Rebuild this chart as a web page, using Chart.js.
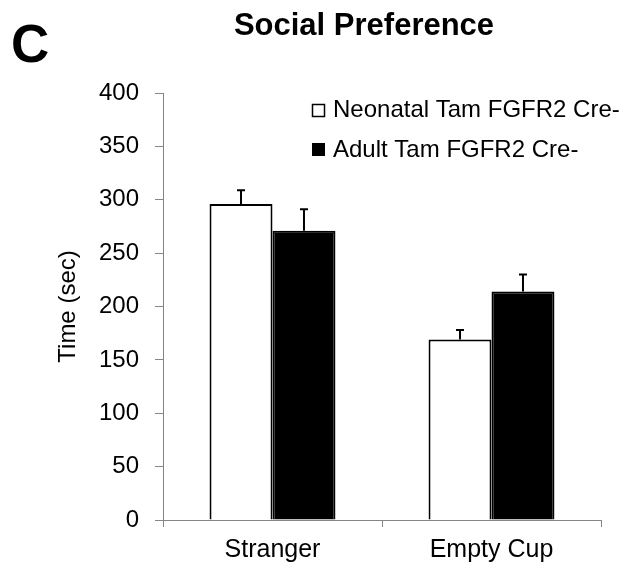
<!DOCTYPE html>
<html>
<head>
<meta charset="utf-8">
<script src="https://cdn.jsdelivr.net/npm/chart.js@4"></script>
<style>
  html, body { margin: 0; padding: 0; background: #fff; }
  canvas { display: block; }
</style>
</head>
<body>
<canvas id="socialChart" width="641" height="564"></canvas>
<script>
var categories = ['Stranger', 'Empty Cup'];
var seriesNames = ['Neonatal Tam FGFR2 Cre-', 'Adult Tam FGFR2 Cre-'];
var neonatalMeans = [296, 169];
var neonatalErr = [13, 9];
var adultMeans = [271, 214];
var adultErr = [20, 16];

var panelLetter = 'C';
var chartTitle = 'Social Preference';
var yTitle = 'Time (sec)';

var fontFamily = "'Liberation Sans', Arial, sans-serif";
var axisGray = '#868686';

// upward error bars with a small cap
var errorBars = {
    id: 'errorBars',
    afterDatasetsDraw: function (chart) {
        var ctx = chart.ctx;
        var yScale = chart.scales.y;
        ctx.save();
        ctx.strokeStyle = '#000';
        ctx.lineWidth = 2;
        chart.data.datasets.forEach(function (ds, i) {
            var meta = chart.getDatasetMeta(i);
            meta.data.forEach(function (bar, j) {
                var top = yScale.getPixelForValue(ds.data[j] + ds.errors[j]);
                ctx.beginPath();
                ctx.moveTo(bar.x, bar.y);
                ctx.lineTo(bar.x, top);
                ctx.moveTo(bar.x - 4, top);
                ctx.lineTo(bar.x + 4, top);
                ctx.stroke();
            });
        });
        ctx.restore();
    }
};

// title, panel letter and legend in the figure's own places
var decorations = {
    id: 'decorations',
    afterDraw: function (chart) {
        var ctx = chart.ctx;
        ctx.save();
        ctx.fillStyle = '#000';
        ctx.textBaseline = 'alphabetic';

        ctx.font = 'bold 53px ' + fontFamily;
        ctx.textAlign = 'left';
        ctx.fillText(panelLetter, 11, 62);

        ctx.font = 'bold 31px ' + fontFamily;
        ctx.textAlign = 'center';
        ctx.fillText(chartTitle, 364, 35);

        ctx.font = '24px ' + fontFamily;
        ctx.textAlign = 'left';
        var rows = [117, 157];
        chart.data.datasets.forEach(function (ds, i) {
            var base = rows[i];
            if (i === 0) {
                ctx.strokeStyle = '#000';
                ctx.lineWidth = 1.5;
                ctx.strokeRect(312.5, base - 12.5, 12, 12);
            } else {
                ctx.fillRect(312, base - 14, 13, 13);
            }
            ctx.fillText(ds.label, 333, base);
        });
        ctx.restore();
    }
};

var ctx = document.getElementById('socialChart').getContext('2d');
new Chart(ctx, {
    type: 'bar',
    data: {
        labels: categories,
        datasets: [{
                label: seriesNames[0],
                data: neonatalMeans,
                errors: neonatalErr,
                backgroundColor: '#fff',
                borderColor: '#000',
                borderWidth: 2
            },
            {
                label: seriesNames[1],
                data: adultMeans,
                errors: adultErr,
                backgroundColor: '#000',
                borderColor: '#000',
                borderWidth: 2
            }
        ]
    },
    options: {
        responsive: false,
        devicePixelRatio: 1,
        animation: false,
        categoryPercentage: 0.575,
        barPercentage: 1.0,
        layout: {
            padding: { top: 93, right: 40, bottom: 0, left: 48 }
        },
        plugins: {
            legend: { display: false },
            tooltip: { enabled: false }
        },
        scales: {
            x: {
                grid: {
                    offset: true,
                    drawOnChartArea: false,
                    tickLength: 7,
                    color: axisGray
                },
                border: { color: axisGray, width: 1 },
                ticks: {
                    color: '#000',
                    padding: 8,
                    font: { family: fontFamily, size: 25 }
                },
                afterFit: function (scale) {
                    scale.height = 44;
                }
            },
            y: {
                min: 0,
                max: 400,
                ticks: {
                    stepSize: 50,
                    color: '#000',
                    padding: 16,
                    font: { family: fontFamily, size: 24 }
                },
                grid: {
                    drawOnChartArea: false,
                    tickLength: 8,
                    color: axisGray
                },
                border: { color: axisGray, width: 1 },
                title: {
                    display: true,
                    text: yTitle,
                    color: '#000',
                    padding: { top: 6, bottom: 0 },
                    font: { family: fontFamily, size: 24 }
                },
                afterFit: function (scale) {
                    scale.width = 163 - 48;
                }
            }
        }
    },
    plugins: [errorBars, decorations]
});
</script>
</body>
</html>
